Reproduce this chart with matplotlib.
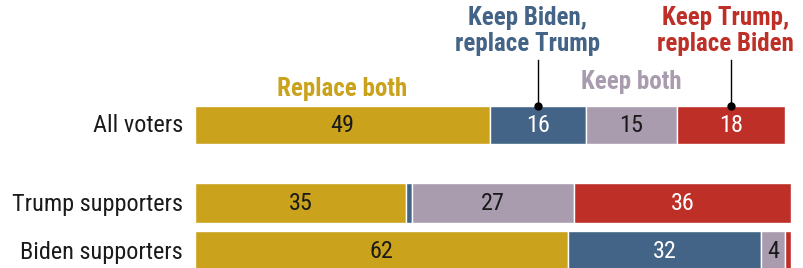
import matplotlib.pyplot as plt
from matplotlib import font_manager

groups = ["All voters", "Trump supporters", "Biden supporters"]
series = ["Replace both", "Keep Biden, replace Trump", "Keep both", "Keep Trump, replace Biden"]
replace_both = [49, 35, 62]
keep_biden = [16, 1, 32]
keep_both = [15, 27, 4]
keep_trump = [18, 36, 1]

colors = ["#CAA21B", "#436486", "#A99CAF", "#BE2F27"]
text_colors = ["#1a1a1a", "white", "#1a1a1a", "white"]

names = {f.name for f in font_manager.fontManager.ttflist}
fam = "DejaVu Sans"
for cand in ["Roboto Condensed", "Liberation Sans Narrow", "Archivo Narrow", "Asap Condensed"]:
    if cand in names:
        fam = cand
        break
plt.rcParams["font.family"] = [fam, "DejaVu Sans"]

fig = plt.figure(figsize=(8.04, 2.68), dpi=100)
ax = fig.add_axes([195 / 804, 0, 602 / 804, 1])
ax.set_xlim(0, 100)
ax.set_ylim(268, 0)  # pixel-like vertical layout
ax.axis("off")

ypos = [125, 203, 251]
heights = [38, 40, 40]

vals = [replace_both, keep_biden, keep_both, keep_trump]
left = [0, 0, 0]
for k, v in enumerate(vals):
    ax.barh(ypos, v, left=left, height=heights, color=colors[k],
            edgecolor="white", linewidth=1)
    for i in range(3):
        if v[i] >= 3:
            ax.text(left[i] + v[i] / 2, ypos[i] + 1, str(v[i]), ha="center", va="center",
                    fontsize=17.5, color=text_colors[k])
    left = [l + x for l, x in zip(left, v)]

for i, g in enumerate(groups):
    ax.text(-2, ypos[i] + 1, g, ha="right", va="center", fontsize=17.5, color="#1a1a1a")

# series labels
ax.text(replace_both[0] / 2, 89, "Replace both", ha="center", va="center",
        fontsize=18, fontweight="bold", color=colors[0])
kb_mid = replace_both[0] + keep_biden[0] + keep_both[0] / 2
ax.text(kb_mid, 82, "Keep both", ha="center", va="center",
        fontsize=18, fontweight="bold", color=colors[2])

b_mid = replace_both[0] + keep_biden[0] / 2
ax.text(b_mid - 1.8, 31, "Keep Biden,\nreplace Trump", ha="center", va="center",
        fontsize=18, fontweight="bold", color=colors[1], linespacing=1.1)
ax.plot([b_mid, b_mid], [60, 106], color="black", lw=1)
ax.plot([b_mid], [106], "o", color="black", ms=5)

t_mid = replace_both[0] + keep_biden[0] + keep_both[0] + keep_trump[0] / 2
ax.text(t_mid - 0.9, 31, "Keep Trump,\nreplace Biden", ha="center", va="center",
        fontsize=18, fontweight="bold", color=colors[3], linespacing=1.1)
ax.plot([t_mid, t_mid], [60, 106], color="black", lw=1)
ax.plot([t_mid], [106], "o", color="black", ms=5)

fig.savefig("out.png", dpi=100)
